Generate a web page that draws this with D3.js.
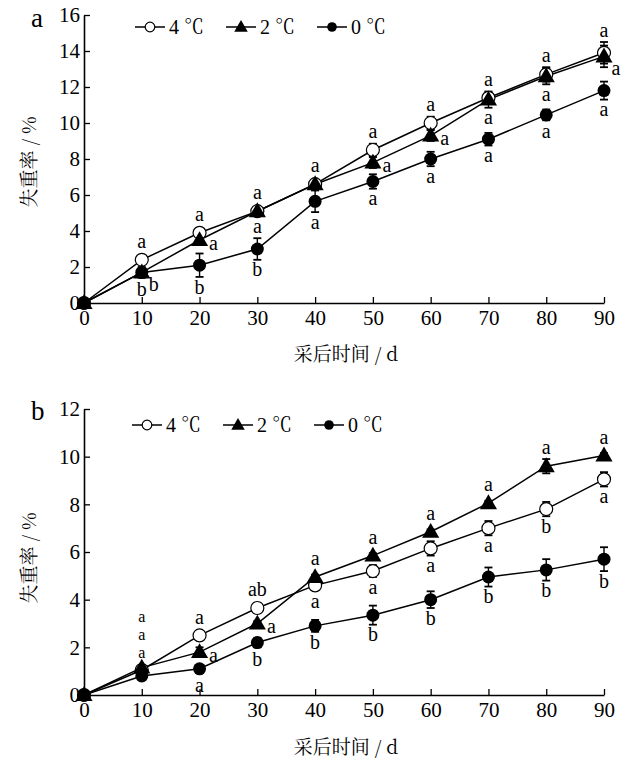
<!DOCTYPE html>
<html><head><meta charset="utf-8">
<script src="https://cdn.jsdelivr.net/npm/d3@7"></script>
<style>body{margin:0;background:#fff}svg{display:block}</style>
</head><body>
<svg id="c" width="621" height="760"></svg>
<script>
// ---------- data ----------
const days = [0,10,20,30,40,50,60,70,80,90];
const seriesTemps = ["4","2","0"];
const unit = "℃";
const yTicksA = [0,2,4,6,8,10,12,14,16];
const yTicksB = [0,2,4,6,8,10,12];
const xTicks = [0,10,20,30,40,50,60,70,80,90];

// panel a
const a4 = [0,2.4,3.9,5.1,6.6,8.5,10.0,11.4,12.7,13.9];
const a2 = [0,1.7,3.5,5.1,6.6,7.8,9.3,11.3,12.6,13.7];
const a0 = [0,1.7,2.1,3.0,5.65,6.75,8.0,9.1,10.45,11.8];
const ea4 = [0,0.1,0.1,0.1,0.15,0.35,0.35,0.3,0.4,0.6];
const ea2 = [0,0.2,0.2,0.15,0.2,0.3,0.3,0.45,0.45,0.6];
const ea0 = [0,0.3,0.65,0.6,0.6,0.4,0.4,0.35,0.3,0.5];
// annotations: [day, series index, letter(s), side]
const lettersA = [
  [10,0,"a","up"],[10,2,"b","down"],[10,1,"b","rd"],
  [20,0,"a","up"],[20,1,"a","right"],[20,2,"b","down"],
  [30,0,"a","up"],[30,2,"a","up"],[30,2,"b","down"],
  [40,0,"a","up"],[40,2,"a","down"],
  [50,0,"a","up"],[50,1,"a","right"],[50,2,"a","down"],
  [60,0,"a","up"],[60,1,"a","right"],[60,2,"a","down"],
  [70,0,"a","up"],[70,1,"a","down"],[70,2,"a","down"],
  [80,0,"a","up"],[80,1,"a","down"],[80,2,"a","down"],
  [90,0,"a","up"],[90,1,"a","rd"],[90,2,"a","down"]
];

// panel b
const b4 = [0,1.05,2.5,3.65,4.6,5.2,6.15,7.0,7.8,9.05];
const b2 = [0,1.15,1.8,3.0,4.95,5.85,6.85,8.05,9.6,10.05];
const b0 = [0,0.8,1.1,2.2,2.9,3.35,4.0,4.95,5.25,5.7];
const eb4 = [0,0.1,0.1,0.2,0.2,0.25,0.3,0.3,0.3,0.3];
const eb2 = [0,0.1,0.2,0.1,0.1,0.1,0.1,0.1,0.3,0.1];
const eb0 = [0,0.1,0.1,0.2,0.25,0.4,0.35,0.4,0.45,0.5];
const lettersB = [
  [10,1,["a","a","a"],"up"],
  [20,0,"a","up"],[20,1,"a","right"],[20,2,"a","down"],
  [30,0,"ab","up"],[30,1,"a","right"],[30,2,"b","down"],
  [40,1,"a","up"],[40,0,"a","down"],[40,2,"b","down"],
  [50,1,"a","up"],[50,0,"a","down"],[50,2,"b","down"],
  [60,1,"a","up"],[60,0,"a","down"],[60,2,"b","down"],
  [70,1,"a","up"],[70,0,"a","down"],[70,2,"b","down"],
  [80,1,"a","up"],[80,0,"b","down"],[80,2,"b","down"],
  [90,1,"a","up"],[90,0,"a","down"],[90,2,"b","down"]
];

// ---------- drawing ----------
const svg = d3.select("#c");
const SERIF = '"Liberation Serif"';
const CJK = '"Noto Serif CJK SC"';
const x = d3.scaleLinear().domain([0,90]).range([84,604]);

function marker(g, type, cx, cy, r){
  if(type===0){
    g.append("circle").attr("cx",cx).attr("cy",cy).attr("r",r)
      .attr("fill","#fff").attr("stroke","#000").attr("stroke-width",1.2);
  } else if(type===1){
    const s = d3.symbol().type(d3.symbolTriangle).size(r*r*2.6);
    g.append("path").attr("d",s()).attr("transform",`translate(${cx},${cy+r*0.15})`)
      .attr("fill","#000");
  } else {
    g.append("circle").attr("cx",cx).attr("cy",cy).attr("r",r).attr("fill","#000");
  }
}

function txt(g){ return g.append("text").style("font-family",SERIF).attr("fill","#000"); }

function panel(opts){
  const {y, ymax, yTicks, vals, errs, letters, letter, letterY, legendY, legendX, titleYc, xTitleY} = opts;
  const g = svg.append("g");
  const y0 = y(0);
  // axes
  const yAxis = d3.axisLeft(y).tickValues(yTicks).tickSize(-6).tickPadding(6).tickSizeOuter(0);
  const ga = g.append("g").attr("transform",`translate(${x(0)},0)`).call(yAxis);
  const xAxis = d3.axisBottom(x).tickValues(xTicks).tickSize(-6).tickPadding(10).tickSizeOuter(0);
  const gx = g.append("g").attr("transform",`translate(0,${y0})`).call(xAxis);
  [ga,gx].forEach(a=>{
    a.attr("font-family",null).attr("font-size",null);
    a.selectAll("path.domain").attr("stroke","#000").attr("stroke-width",1.6);
    a.selectAll(".tick line").attr("stroke","#000").attr("stroke-width",1.3);
    a.selectAll(".tick text").attr("fill","#000").style("font-family",SERIF).style("font-size","21px");
  });
  ga.selectAll(".tick text").attr("x",-4);
  gx.selectAll(".tick text").attr("dy","0.55em");

  // lines
  const line = d3.line().x((d,i)=>x(days[i])).y(d=>y(d));
  vals.forEach(v=>{
    g.append("path").datum(v).attr("d",line).attr("fill","none")
      .attr("stroke","#000").attr("stroke-width",1.5);
  });
  // error bars
  vals.forEach((v,s)=>{
    v.forEach((d,i)=>{
      const e = errs[s][i];
      if(e<=0) return;
      const cx = x(days[i]), t = y(d+e), b = y(d-e);
      g.append("line").attr("x1",cx).attr("x2",cx).attr("y1",t).attr("y2",b)
        .attr("stroke","#000").attr("stroke-width",1.4);
      [t,b].forEach(yy=>g.append("line").attr("x1",cx-4).attr("x2",cx+4).attr("y1",yy).attr("y2",yy)
        .attr("stroke","#000").attr("stroke-width",1.8));
    });
  });
  // markers
  vals.forEach((v,s)=>{
    v.forEach((d,i)=>marker(g, s, x(days[i]), y(d), s===1?7:6.5));
  });
  // letters
  letters.forEach(([day,s,label,side])=>{
    const i = days.indexOf(day);
    const v = vals[s][i], e = y(v) - y(v+errs[s][i]);
    let cx = x(day), cy = y(v);
    const off = Math.max(e,6.5)+11;
    if(side==="up") cy -= off;
    else if(side==="down") cy += off;
    else if(side==="right"){ cx += 14; cy += 4; }
    else if(side==="rd"){ cx += 12; cy += 13; }
    if(Array.isArray(label)){
      const n = label.length;
      label.forEach((s2,k)=>txt(g).attr("text-anchor","middle").style("font-size","16px")
        .attr("x",cx).attr("y",cy+3-(n-1-k)*18).attr("dy","0.28em").text(s2));
    } else {
      txt(g).attr("text-anchor","middle").style("font-size","20px")
        .attr("x",cx).attr("y",cy).attr("dy","0.28em").text(label);
    }
  });
  // legend
  seriesTemps.forEach((n,s)=>{
    const lx = legendX + s*91;
    g.append("line").attr("x1",lx).attr("x2",lx+30).attr("y1",legendY).attr("y2",legendY)
      .attr("stroke","#000").attr("stroke-width",1.5);
    marker(g, s, lx+15, legendY, s===1?5.5:4.8);
    const t = txt(g).attr("x",lx+34).attr("y",legendY).attr("dy","0.33em")
      .style("font-size","20px");
    t.append("tspan").style("font-family",SERIF).text(n+" ");
    t.append("tspan").style("font-family",CJK).text(unit);
  });
  // panel letter
  txt(g).attr("x",31).attr("y",letterY).style("font-size","27px").text(letter);
  // axis titles
  g.append("text").attr("transform",`translate(29,${titleYc}) rotate(-90)`)
    .attr("text-anchor","middle").attr("dy","0.35em")
    .style("font-family",CJK).style("font-size","19px").text("失重率 / %");
  g.append("text").attr("x",346).attr("y",xTitleY).attr("text-anchor","middle").attr("dy","0.35em")
    .style("font-family",CJK).style("font-size","19px").text("采后时间 / d");
}

panel({
  y: d3.scaleLinear().domain([0,16]).range([303,15]), ymax:16, yTicks:yTicksA,
  vals:[a4,a2,a0], errs:[ea4,ea2,ea0], letters:lettersA,
  letter:"a", letterY:27, legendY:27, legendX:135, titleYc:162, xTitleY:354
});
panel({
  y: d3.scaleLinear().domain([0,12]).range([695,409]), ymax:12, yTicks:yTicksB,
  vals:[b4,b2,b0], errs:[eb4,eb2,eb0], letters:lettersB,
  letter:"b", letterY:420, legendY:425, legendX:132, titleYc:558, xTitleY:747
});
</script>
</body></html>
